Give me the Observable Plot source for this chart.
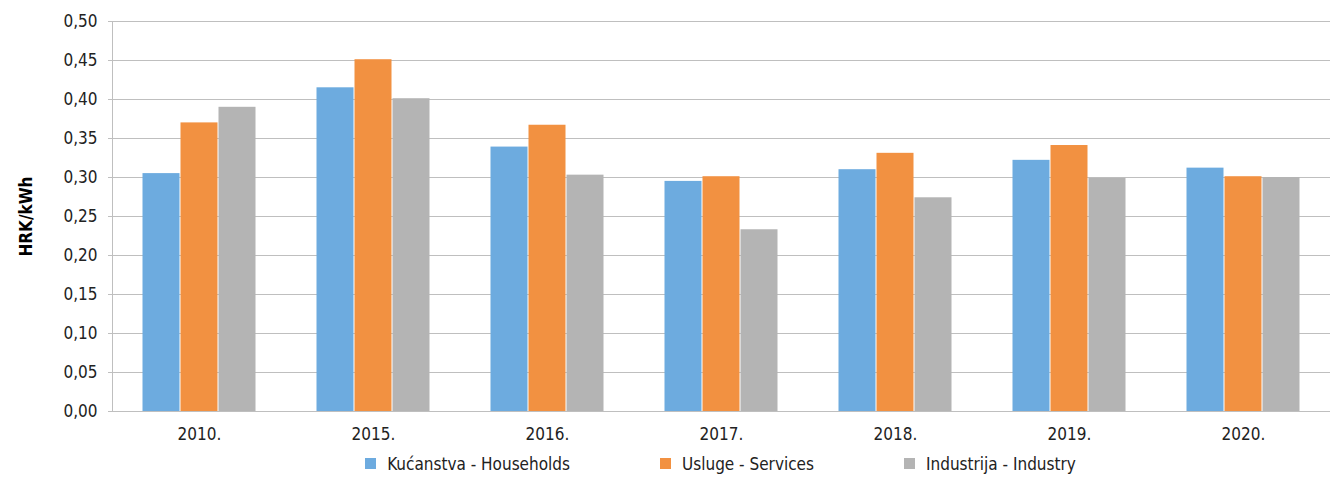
<!DOCTYPE html>
<html>
<head>
<meta charset="utf-8">
<script src="https://cdn.jsdelivr.net/npm/d3@7"></script>
<script src="https://cdn.jsdelivr.net/npm/@observablehq/plot@0.6"></script>
<style>
  body { margin: 0; background: #fff; }
  #chart svg { display: block; font-stretch: condensed; }
  #chart g[aria-label="y-axis label"] text { font-weight: bold; fill: #000; }
  .legend { display: flex; justify-content: center; gap: 90px; padding-left: 111px; padding-right: 2px;
    font-family: "DejaVu Sans", sans-serif; font-stretch: condensed; font-size: 17px; color: #222; height: 31px; align-items: center; }
  .legend span.item { display: flex; align-items: center; gap: 11px; }
  .legend span.sw { width: 11px; height: 11px; display: inline-block; }
</style>
</head>
<body>
<div id="chart"></div>
<script>
const years = ["2010.", "2015.", "2016.", "2017.", "2018.", "2019.", "2020."];
const series = ["Kućanstva - Households", "Usluge - Services", "Industrija - Industry"];
const households = [0.305, 0.415, 0.339, 0.295, 0.310, 0.322, 0.312];
const services   = [0.370, 0.451, 0.367, 0.301, 0.331, 0.341, 0.301];
const industry   = [0.390, 0.401, 0.303, 0.233, 0.274, 0.299, 0.300];
const colors = ["#6DABDF", "#F29141", "#B4B4B4"];
const yTicks = [0, 0.05, 0.10, 0.15, 0.20, 0.25, 0.30, 0.35, 0.40, 0.45, 0.50];

const values = [households, services, industry];
const data = years.flatMap((year, i) => series.map((s, j) => ({year, series: s, value: values[j][i]})));

const font = "'DejaVu Sans', sans-serif";

const chart = Plot.plot({
  width: 1332,
  height: 448,
  marginTop: 21,
  marginBottom: 37,
  marginLeft: 111,
  marginRight: 2,
  style: {fontFamily: font, fontSize: "17px", color: "#222", background: "#fff"},
  fx: {domain: years, padding: 0, label: null},
  x: {domain: series, paddingInner: 0, paddingOuter: 0.77, axis: null},
  y: {domain: [0, 0.5], label: null},
  color: {domain: series, range: colors},
  marks: [
    Plot.gridY(yTicks, {stroke: "#BFBFBF", strokeOpacity: 1, strokeWidth: 1}),
    Plot.barY(data, {fx: "year", x: "series", y: "value", fill: "series", insetLeft: 0.5, insetRight: 0.5}),
    Plot.ruleY([0], {stroke: "#BFBFBF"}),
    Plot.frame({anchor: "left", stroke: "#BFBFBF", facetAnchor: "left"}),
    Plot.axisY(yTicks, {
      tickFormat: d => d.toFixed(2).replace(".", ","),
      tickSize: 4, tickPadding: 11, stroke: "#BFBFBF", fill: "#222",
      label: "HRK/kWh", labelAnchor: "center", labelOffset: 93, labelArrow: "none"
    }),
    Plot.axisFx({anchor: "bottom", tickSize: 0, tickPadding: 16, label: null, fill: "#222"})
  ]
});
document.getElementById("chart").appendChild(chart);

const legend = document.createElement("div");
legend.className = "legend";
series.forEach((s, i) => {
  const item = document.createElement("span");
  item.className = "item";
  const sw = document.createElement("span");
  sw.className = "sw";
  sw.style.background = colors[i];
  const t = document.createElement("span");
  t.textContent = s;
  item.appendChild(sw);
  item.appendChild(t);
  legend.appendChild(item);
});
document.body.appendChild(legend);
</script>
</body>
</html>
